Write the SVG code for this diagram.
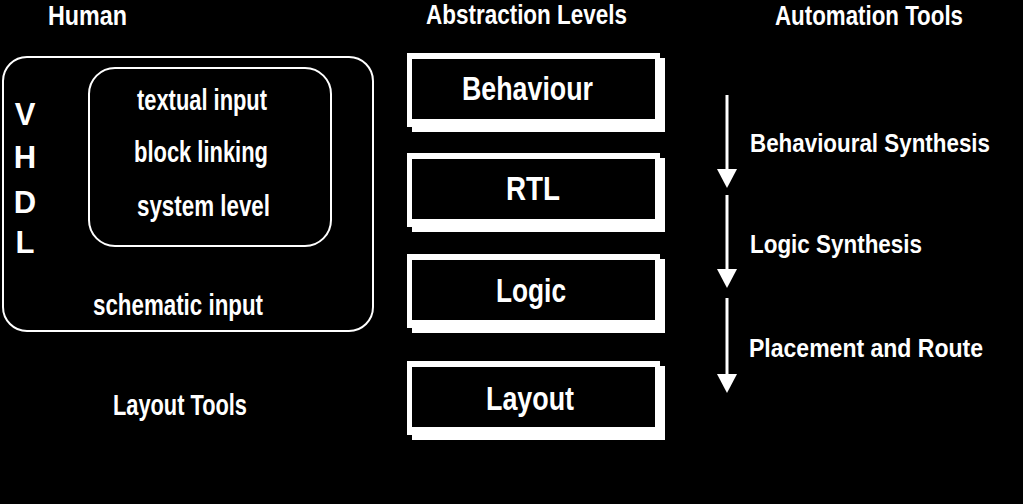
<svg xmlns="http://www.w3.org/2000/svg" width="1023" height="504" viewBox="0 0 1023 504">
<style>
text{font-family:"Liberation Sans",Arial,sans-serif;font-weight:bold;fill:#fff}
.hd{font-size:28px}
.lt{font-size:29px}
.bx{font-size:34px}
.tl{font-size:25px}
.vh{font-size:31px;text-anchor:middle}
.frame{fill:none;stroke:#fff;stroke-width:2}
.w{fill:#fff}
.k{fill:#000}
.arr{stroke:#fff;stroke-width:3;fill:none}
</style>
<defs>
<marker id="ah" viewBox="0 0 19 20" refX="0" refY="10" markerWidth="19" markerHeight="20" markerUnits="userSpaceOnUse" orient="auto">
<path d="M0,0 L19,10 L0,20 z" fill="#fff"/>
</marker>
</defs>
<rect width="1023" height="504" fill="#000"/>
<g id="headers">
<text class="hd" x="48" y="25" textLength="79" lengthAdjust="spacingAndGlyphs">Human</text>
<text class="hd" x="426" y="24" textLength="201" lengthAdjust="spacingAndGlyphs">Abstraction Levels</text>
<text class="hd" x="775" y="25" textLength="188" lengthAdjust="spacingAndGlyphs">Automation Tools</text>
</g>
<g id="human-outer">
<rect class="frame" x="3" y="57" width="370" height="274" rx="24"/>
<text class="vh" x="25" y="125">V</text>
<text class="vh" x="25" y="168">H</text>
<text class="vh" x="25" y="213">D</text>
<text class="vh" x="25" y="253">L</text>
<text class="lt" x="93" y="315" textLength="170" lengthAdjust="spacingAndGlyphs">schematic input</text>
</g>
<g id="human-inner">
<rect class="frame" x="89" y="68" width="242" height="178" rx="26"/>
<text class="lt" x="137" y="110" textLength="130" lengthAdjust="spacingAndGlyphs">textual input</text>
<text class="lt" x="134" y="162" textLength="134" lengthAdjust="spacingAndGlyphs">block linking</text>
<text class="lt" x="137" y="216" textLength="133" lengthAdjust="spacingAndGlyphs">system level</text>
</g>
<g id="layout-tools">
<text class="lt" x="113" y="415" textLength="134" lengthAdjust="spacingAndGlyphs">Layout Tools</text>
</g>
<g id="behaviour">
<rect class="w" x="407" y="53" width="253" height="74"/>
<rect class="w" x="412" y="58" width="253" height="74"/>
<rect class="k" x="412" y="59" width="243" height="60"/>
<text class="bx" x="462" y="100" textLength="131" lengthAdjust="spacingAndGlyphs">Behaviour</text>
</g>
<g id="rtl">
<rect class="w" x="407" y="153" width="253" height="74"/>
<rect class="w" x="412" y="158" width="253" height="74"/>
<rect class="k" x="412" y="159" width="243" height="60"/>
<text class="bx" x="506" y="200" textLength="54" lengthAdjust="spacingAndGlyphs">RTL</text>
</g>
<g id="logic">
<rect class="w" x="407" y="254" width="253" height="74"/>
<rect class="w" x="412" y="259" width="253" height="74"/>
<rect class="k" x="412" y="260" width="243" height="60"/>
<text class="bx" x="496" y="302" textLength="70" lengthAdjust="spacingAndGlyphs">Logic</text>
</g>
<g id="layout">
<rect class="w" x="407" y="361" width="253" height="74"/>
<rect class="w" x="412" y="366" width="253" height="74"/>
<rect class="k" x="412" y="367" width="243" height="60"/>
<text class="bx" x="486" y="410" textLength="88" lengthAdjust="spacingAndGlyphs">Layout</text>
</g>
<g id="connectors">
<line class="arr" x1="727" y1="95" x2="727" y2="169" marker-end="url(#ah)"/>
<line class="arr" x1="727" y1="195" x2="727" y2="269" marker-end="url(#ah)"/>
<line class="arr" x1="727" y1="298" x2="727" y2="374" marker-end="url(#ah)"/>
</g>
<g id="tool-labels">
<text class="tl" x="750" y="152" textLength="240" lengthAdjust="spacingAndGlyphs">Behavioural Synthesis</text>
<text class="tl" x="750" y="253" textLength="172" lengthAdjust="spacingAndGlyphs">Logic Synthesis</text>
<text class="tl" x="749" y="357" textLength="234" lengthAdjust="spacingAndGlyphs">Placement and Route</text>
</g>
</svg>
